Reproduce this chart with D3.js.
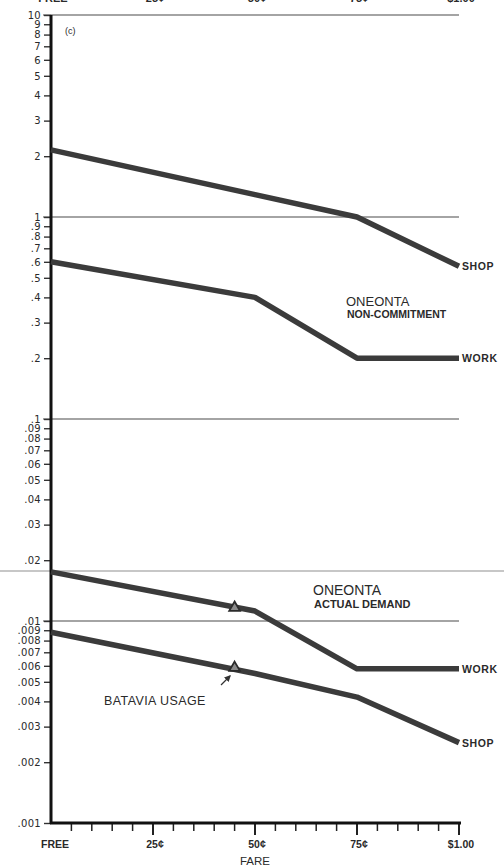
<!DOCTYPE html>
<html>
<head>
<meta charset="utf-8">
<script src="https://cdn.jsdelivr.net/npm/d3@7"></script>
<style>
  body { margin: 0; background: #fff; }
  text { font-family: "Liberation Sans", Arial, sans-serif; fill: #2a2a2a; }
</style>
</head>
<body>
<script>
// Data (c)
const fares = [0, 50, 75, 100];                 // cents
const ncShop = [2.15, 1.29, 1.0, 0.57];         // Oneonta non-commitment, shop
const ncWork = [0.6, 0.4, 0.2, 0.2];            // Oneonta non-commitment, work
const adWork = [0.0175, 0.0112, 0.0058, 0.0058]; // Oneonta actual demand, work
const adShop = [0.0088, 0.0055, 0.0042, 0.0025]; // Oneonta actual demand, shop

// Batavia usage points (triangles)
const bataviaFare = 45;
const bataviaValues = [0.0115, 0.0058];

// Axis ticks and labels
const xMajor = [0, 25, 50, 75, 100];
const xLabels = ["FREE", "25¢", "50¢", "75¢", "$1.00"];
const yTicks = [10, 9, 8, 7, 6, 5, 4, 3, 2,
  1, 0.9, 0.8, 0.7, 0.6, 0.5, 0.4, 0.3, 0.2,
  0.1, 0.09, 0.08, 0.07, 0.06, 0.05, 0.04, 0.03, 0.02,
  0.01, 0.009, 0.008, 0.007, 0.006, 0.005, 0.004, 0.003, 0.002, 0.001];
const yLabels = ["10", "9", "8", "7", "6", "5", "4", "3", "2",
  "1", ".9", ".8", ".7", ".6", ".5", ".4", ".3", ".2",
  ".1", ".09", ".08", ".07", ".06", ".05", ".04", ".03", ".02",
  ".01", ".009", ".008", ".007", ".006", ".005", ".004", ".003", ".002", ".001"];
const gridValues = [10, 1, 0.1, 0.01];

const width = 504, height = 866;
const lineColor = "#3b3b3b";

const svg = d3.select("body").append("svg")
  .attr("width", width)
  .attr("height", height);

svg.append("rect").attr("width", width).attr("height", height).attr("fill", "#fff");

// Scales
const x = d3.scaleLinear().domain([0, 100]).range([51, 459]);
const y = d3.scaleLog().domain([0.001, 10]).range([823, 15]);

// cut off fare labels of the panel above
svg.append("g")
  .selectAll("text")
  .data(xMajor)
  .enter().append("text")
  .attr("x", d => x(d) + 2)
  .attr("y", 2)
  .attr("text-anchor", "middle")
  .style("font-size", "11px")
  .style("font-weight", "bold")
  .text((d, i) => xLabels[i]);

// page seam from the scan
svg.append("line")
  .attr("x1", 0).attr("x2", width)
  .attr("y1", 571).attr("y2", 571)
  .attr("stroke", "#b5b5b5")
  .attr("stroke-width", 1.5);

// decade lines
svg.append("g")
  .selectAll("line")
  .data(gridValues)
  .enter().append("line")
  .attr("x1", 43)
  .attr("x2", x(100))
  .attr("y1", d => y(d))
  .attr("y2", d => y(d))
  .attr("stroke", "#4a4a4a")
  .attr("stroke-width", 1.2);

// Y axis
const yAxis = d3.axisLeft(y)
  .tickValues(yTicks)
  .tickFormat((d, i) => yLabels[i])
  .tickSize(7)
  .tickPadding(3);

const yg = svg.append("g")
  .attr("transform", `translate(${x(0)},0)`)
  .call(yAxis);
yg.select(".domain").remove();
yg.selectAll(".tick line").attr("stroke", "#333").attr("stroke-width", 1.4);
yg.selectAll(".tick text")
  .attr("fill", "#2a2a2a")
  .style("font-family", "'DejaVu Sans', sans-serif")
  .style("font-size", "10px")
  .style("letter-spacing", "0.3px");

svg.append("line")
  .attr("x1", x(0)).attr("x2", x(0))
  .attr("y1", y(10)).attr("y2", y(0.001) + 1)
  .attr("stroke", "#111")
  .attr("stroke-width", 3);

// X axis: minor ticks every 5 cents, longer at quarters
const xg = svg.append("g")
  .attr("transform", `translate(0,${y(0.001)})`);

xg.selectAll("line.minor")
  .data(d3.range(5, 101, 5))
  .enter().append("line")
  .attr("class", "minor")
  .attr("x1", d => x(d)).attr("x2", d => x(d))
  .attr("y1", 0)
  .attr("y2", d => d % 25 === 0 ? 12 : 8)
  .attr("stroke", "#222")
  .attr("stroke-width", d => d % 25 === 0 ? 2 : 1.5);

xg.append("line")
  .attr("x1", x(0) - 1).attr("x2", x(100) + 2)
  .attr("y1", 0).attr("y2", 0)
  .attr("stroke", "#111")
  .attr("stroke-width", 3);

xg.selectAll("text")
  .data(xMajor)
  .enter().append("text")
  .attr("x", d => x(d) + (d === 0 ? 4 : 2))
  .attr("y", 25)
  .attr("text-anchor", "middle")
  .style("font-size", "10.5px")
  .style("font-weight", "bold")
  .text((d, i) => xLabels[i]);

svg.append("text")
  .attr("x", x(50))
  .attr("y", 865)
  .attr("text-anchor", "middle")
  .style("font-size", "11.5px")
  .text("FARE");

// panel letter
svg.append("text")
  .attr("x", 65).attr("y", 34)
  .style("font-size", "9px")
  .attr("fill", "#444")
  .text("(c)");

// Series lines
const line = d3.line()
  .x((d, i) => x(fares[i]))
  .y(d => y(d));

const series = [
  { values: ncShop, label: "SHOP" },
  { values: ncWork, label: "WORK" },
  { values: adWork, label: "WORK" },
  { values: adShop, label: "SHOP" }
];

svg.selectAll(".series")
  .data(series)
  .enter().append("path")
  .attr("class", "series")
  .attr("d", d => line(d.values))
  .attr("fill", "none")
  .attr("stroke", lineColor)
  .attr("stroke-width", 5.5)
  .attr("stroke-linejoin", "round");

svg.selectAll(".end-label")
  .data(series)
  .enter().append("text")
  .attr("class", "end-label")
  .attr("x", x(100) + 3)
  .attr("y", d => y(d.values[d.values.length - 1]) + 4)
  .style("font-size", "10.5px")
  .style("font-weight", "bold")
  .style("letter-spacing", "0.6px")
  .text(d => d.label);

// Batavia usage triangles
svg.selectAll(".batavia")
  .data(bataviaValues)
  .enter().append("path")
  .attr("class", "batavia")
  .attr("d", d3.symbol().type(d3.symbolTriangle).size(50))
  .attr("transform", d => `translate(${x(bataviaFare)},${y(d) - 1})`)
  .attr("fill", "#8a8a8a")
  .attr("stroke", "#2b2b2b")
  .attr("stroke-width", 1.8);

// Annotations
svg.append("text").attr("x", 346).attr("y", 306)
  .style("font-size", "13px").text("ONEONTA");
svg.append("text").attr("x", 347).attr("y", 318)
  .style("font-size", "10.5px").style("font-weight", "bold").text("NON-COMMITMENT");

svg.append("text").attr("x", 313).attr("y", 595)
  .style("font-size", "14px").text("ONEONTA");
svg.append("text").attr("x", 314).attr("y", 608)
  .style("font-size", "11px").style("font-weight", "bold").text("ACTUAL DEMAND");

svg.append("text").attr("x", 104).attr("y", 705)
  .style("font-size", "12.5px").style("letter-spacing", "0.4px").text("BATAVIA USAGE");

// small arrow to the lower triangle
svg.append("defs").append("marker")
  .attr("id", "arrow")
  .attr("viewBox", "0 0 10 10")
  .attr("refX", 8).attr("refY", 5)
  .attr("markerWidth", 5).attr("markerHeight", 5)
  .attr("orient", "auto")
  .append("path")
  .attr("d", "M0,0 L10,5 L0,10 z")
  .attr("fill", "#333");

svg.append("line")
  .attr("x1", 221).attr("y1", 685)
  .attr("x2", 230).attr("y2", 676)
  .attr("stroke", "#333")
  .attr("stroke-width", 1.3)
  .attr("marker-end", "url(#arrow)");
</script>
</body>
</html>
